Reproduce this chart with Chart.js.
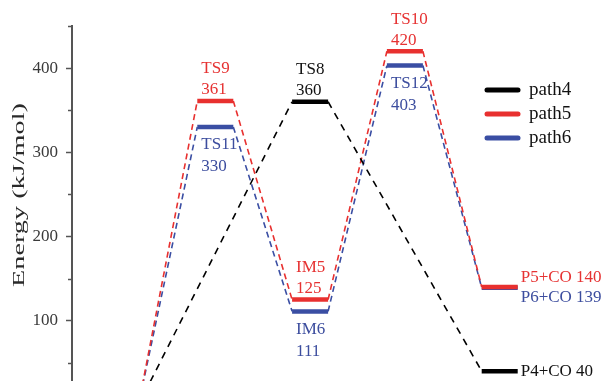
<!DOCTYPE html>
<html>
<head>
<meta charset="utf-8">
<script src="https://cdn.jsdelivr.net/npm/chart.js@4"></script>
<style>
  html, body { margin: 0; padding: 0; background: #fff; }
  #wrap { width: 606px; height: 381px; }
</style>
</head>
<body>
<div id="wrap"><canvas id="energyChart"></canvas></div>
<script>
// data
const columns = [0, 1, 2, 3, 4];
const path4 = [0, null, 360, null, 40];
const path5 = [0, 361, 125, 420, 140];
const path6 = [0, 330, 111, 403, 139];
const names4 = ['', null, 'TS8', null, 'P4+CO'];
const names5 = ['', 'TS9', 'IM5', 'TS10', 'P5+CO'];
const names6 = ['', 'TS11', 'IM6', 'TS12', 'P6+CO'];
const seriesNames = ['path4', 'path5', 'path6'];
const seriesColors = ['#000000', '#e8302f', '#3a4ea3'];
const labelColors = ['#111111', '#e63232', '#3c4d9e'];
const yTicks = [50, 100, 150, 200, 250, 300, 350, 400, 450];

const SERIF = "'Liberation Serif', 'Times New Roman', serif";
const HW = 0.19; // half width of a level bar, in column units

function buildPoints(values) {
  const pts = [];
  columns.forEach((c, i) => {
    if (values[i] === null) return;
    pts.push({ x: c - HW, y: values[i] }, { x: c + HW, y: values[i] });
  });
  return pts;
}

const allValues = [path4, path5, path6];
const allNames = [names4, names5, names6];

const datasets = allValues.map((vals, s) => ({
  label: seriesNames[s],
  data: buildPoints(vals),
  borderColor: seriesColors[s],
  borderWidth: 4.5,
  borderDash: [],
  borderCapStyle: 'butt',
  pointRadius: 0,
  tension: 0,
  segment: {
    borderDash: ctx => ctx.p0DataIndex % 2 === 0 ? [] : (s === 0 ? [7, 6] : [6, 4]),
    borderWidth: ctx => ctx.p0DataIndex % 2 === 0 ? 4.5 : 1.6
  }
}));

// level labels, minor ticks, axis title, legend
const decorations = {
  id: 'decorations',
  afterDatasetsDraw(chart) {
    const ctx = chart.ctx;
    const xs = chart.scales.x, ys = chart.scales.y;
    ctx.save();
    ctx.font = '17px ' + SERIF;
    ctx.textBaseline = 'middle';
    allValues.forEach((vals, s) => {
      vals.forEach((v, i) => {
        if (v === null || !allNames[s][i]) return;
        const py = ys.getPixelForValue(v);
        ctx.fillStyle = labelColors[s];
        ctx.textAlign = 'left';
        if (columns[i] === 4) {
          const dy = [0, -9, 10][s];
          ctx.fillText(allNames[s][i] + ' ' + v, xs.getPixelForValue(columns[i] + HW) + 3, py + dy);
        } else {
          const lx = xs.getPixelForValue(columns[i] - HW) + 4;
          if (s === 2) {
            ctx.fillText(allNames[s][i], lx, py + 18);
            ctx.fillText(String(v), lx, py + 40);
          } else {
            ctx.fillText(allNames[s][i], lx, py - 32);
            ctx.fillText(String(v), lx, py - 11);
          }
        }
      });
    });
    ctx.restore();
  },
  afterDraw(chart) {
    const ctx = chart.ctx;
    const ys = chart.scales.y;
    const left = chart.chartArea.left;
    ctx.save();
    // minor ticks
    ctx.strokeStyle = '#555';
    ctx.lineWidth = 1.5;
    yTicks.filter(v => v % 100 !== 0).forEach(v => {
      const py = Math.round(ys.getPixelForValue(v)) + 0.5;
      ctx.beginPath();
      ctx.moveTo(left - 4, py);
      ctx.lineTo(left, py);
      ctx.stroke();
    });
    // y axis title (stretched along its length like the original)
    ctx.translate(20, 195);
    ctx.rotate(-Math.PI / 2);
    ctx.font = '17px ' + SERIF;
    const title = 'Energy (kJ/mol)';
    const w = ctx.measureText(title).width;
    ctx.scale(184 / w, 1);
    ctx.fillStyle = '#2a2a2a';
    ctx.textAlign = 'center';
    ctx.textBaseline = 'middle';
    ctx.fillText(title, 0, 0);
    ctx.restore();
    // legend
    ctx.save();
    ctx.font = '19px ' + SERIF;
    ctx.textBaseline = 'middle';
    ctx.textAlign = 'left';
    chart.data.datasets.forEach((ds, i) => {
      const y = 90 + i * 24;
      ctx.strokeStyle = ds.borderColor;
      ctx.lineWidth = 5;
      ctx.lineCap = 'round';
      ctx.beginPath();
      ctx.moveTo(487, y);
      ctx.lineTo(518, y);
      ctx.stroke();
      ctx.fillStyle = '#111';
      ctx.fillText(ds.label, 529, y);
    });
    ctx.restore();
  }
};

new Chart(document.getElementById('energyChart'), {
  type: 'line',
  data: { datasets: datasets },
  options: {
    responsive: true,
    maintainAspectRatio: false,
    animation: false,
    layout: { padding: { top: 26, left: 0, right: 0, bottom: 0 } },
    plugins: {
      legend: { display: false },
      tooltip: { enabled: false }
    },
    scales: {
      x: {
        type: 'linear',
        display: false,
        min: (72 - 120.5) / 94.8,
        max: (606 - 120.5) / 94.8
      },
      y: {
        min: 28.3,
        max: 450,
        afterBuildTicks: scale => { scale.ticks = yTicks.map(v => ({ value: v })); },
        afterFit: scale => {
          scale.width = 72;
          scale.paddingTop = 0;
          scale.paddingBottom = 0;
        },
        border: { display: true, color: '#555', width: 2 },
        grid: {
          drawOnChartArea: false,
          drawTicks: true,
          tickLength: 6,
          tickWidth: 1.5,
          tickColor: ctx => ctx.tick && ctx.tick.value % 100 === 0 ? '#555' : 'rgba(0,0,0,0)'
        },
        ticks: {
          padding: 8,
          color: '#3a3a3a',
          font: { family: SERIF, size: 17 },
          callback: v => v % 100 === 0 ? String(v) : ''
        }
      }
    }
  },
  plugins: [decorations]
});
</script>
</body>
</html>
